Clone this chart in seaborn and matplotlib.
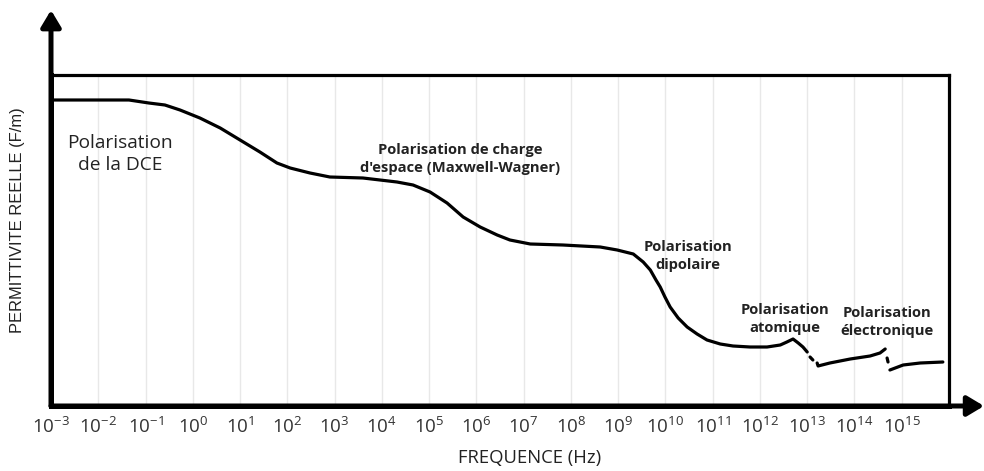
import numpy as np
import pandas as pd
import matplotlib.pyplot as plt
import seaborn as sns
from matplotlib.ticker import NullLocator

# Curve: frequency exponent (log10 Hz) and relative permittivity level
# segments: 0 = main curve, 1 = small dash, 2 = atomic plateau, 3 = dot, 4 = electronic plateau
freq_exp = [-3.00, -1.96, -1.35, -0.93, -0.59, -0.27, 0.15, 0.58, 1.00, 1.42,
            1.78, 2.06, 2.48, 2.90, 3.60, 4.32, 4.66, 5.02, 5.38, 5.72,
            6.08, 6.44, 6.71, 7.14, 7.83, 8.62, 8.98, 9.32, 9.53, 9.68,
            9.80, 9.89, 9.99, 10.10, 10.27, 10.46, 10.67, 10.88, 11.16, 11.43,
            11.79, 12.15, 12.43, 12.57, 12.70, 12.81, 12.91, 13.00,
            13.06, 13.12,
            13.21, 13.23, 13.48, 13.91, 14.33, 14.54, 14.65,
            14.69, 14.71,
            14.75, 15.03, 15.39, 15.87]
permittivity = [306, 306, 306, 303, 301, 296, 288, 278, 266, 254,
                243, 238, 233, 229, 228, 224, 221, 214, 203, 189,
                179, 171, 166, 162, 161, 159, 156, 152, 144, 136,
                126, 119, 109, 99, 88, 79, 72, 66, 62, 60,
                59, 59, 61, 64, 67, 63, 59, 54,
                49, 46,
                43, 40, 43, 47, 50, 53, 57,
                48, 44,
                36, 41, 43, 44]
segment = [0] * 48 + [1] * 2 + [2] * 7 + [3] * 2 + [4] * 4

tick_exp = list(range(-3, 16))

# label text, exponent of x centre, y centre, size, weight
labels = [
    ("Polarisation\nde la DCE", -1.54, 252, 13.8, "normal"),
    ("Polarisation de charge\nd'espace (Maxwell-Wagner)", 5.65, 247, 10.6, "bold"),
    ("Polarisation\ndipolaire", 10.48, 150, 10.6, "bold"),
    ("Polarisation\natomique", 12.53, 87, 10.6, "bold"),
    ("Polarisation\nélectronique", 14.69, 84, 10.6, "bold"),
]

sns.set_style("white")
plt.rcParams["font.family"] = ["Open Sans", "DejaVu Sans"]
plt.rcParams["mathtext.fontset"] = "custom"
plt.rcParams["mathtext.rm"] = "Open Sans"

df = pd.DataFrame({
    "freq": 10.0 ** np.array(freq_exp),
    "perm": permittivity,
    "segment": segment,
})

fig = plt.figure(figsize=(9.84, 4.71), dpi=100)
ax = fig.add_axes([51 / 984, 65 / 471, 898 / 984, 331 / 471])

for seg, g in df.groupby("segment"):
    sns.lineplot(data=g, x="freq", y="perm", color="black", linewidth=2.3,
                 estimator=None, sort=False, ax=ax)

ax.set_xscale("log")
ax.set_xlim(1e-3, 1e16)
ax.set_ylim(0, 331)
ax.set_xticks([10.0 ** e for e in tick_exp])
ax.set_xticklabels([r"$\mathregular{10^{%d}}$" % e for e in tick_exp])
ax.xaxis.set_minor_locator(NullLocator())
ax.set_yticks([])
ax.set_xlabel("")
ax.set_ylabel("")
ax.tick_params(axis="x", length=0, pad=8, labelsize=13.5, labelcolor="#333333")
ax.grid(axis="x", color="#e8e8e8", linewidth=1)
ax.set_axisbelow(True)

for side in ["left", "bottom"]:
    ax.spines[side].set_linewidth(3.6)
    ax.spines[side].set_color("black")
for side in ["top", "right"]:
    ax.spines[side].set_linewidth(2.3)
    ax.spines[side].set_color("black")

# axis arrows running past the frame
arrow = dict(arrowstyle="-|>,head_length=0.5,head_width=0.3", lw=3.6,
             color="black", mutation_scale=20, shrinkA=0, shrinkB=0)
ax.annotate("", xy=(1.039, 0), xytext=(0, 0), xycoords="axes fraction",
            arrowprops=arrow, annotation_clip=False)
ax.annotate("", xy=(0, 1.196), xytext=(0, 0), xycoords="axes fraction",
            arrowprops=arrow, annotation_clip=False)

for text, xe, yv, size, weight in labels:
    ax.text(10.0 ** xe, yv, text, ha="center", va="center", fontsize=size,
            fontweight=weight, color="#222222", linespacing=1.3)

fig.text(18 / 984, 1 - 220 / 471, "PERMITTIVITE REELLE (F/m)", rotation=90,
         ha="center", va="center", fontsize=11.9, color="#222222",
         family=["Liberation Sans", "DejaVu Sans"])
fig.text(530 / 984, 1 - 458 / 471, "FREQUENCE (Hz)", ha="center", va="center",
         fontsize=13.3, color="#222222")

fig.savefig("out.png", dpi=100)
